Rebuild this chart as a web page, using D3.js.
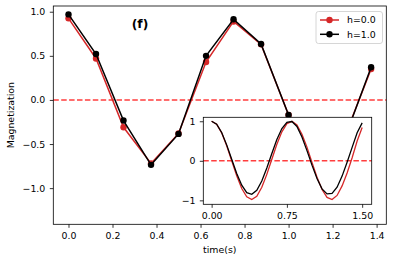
<!DOCTYPE html>
<html><head><meta charset="utf-8">
<script src="https://cdn.jsdelivr.net/npm/d3@7"></script>
<style>
body{margin:0;background:#fff}
text{font-family:"DejaVu Sans",sans-serif}
</style>
</head><body>
<svg id="c" width="394" height="262"></svg>
<script>
// ---- data ----
const times = [0, 0.125, 0.25, 0.375, 0.5, 0.625, 0.75, 0.875, 1.0, 1.125, 1.25, 1.375];
const magH0 = [0.925, 0.47, -0.31, -0.72, -0.38, 0.43, 0.89, 0.63, -0.17, -0.84, -0.45, 0.35];
const magH1 = [0.97, 0.52, -0.234, -0.736, -0.385, 0.50, 0.914, 0.634, -0.17, -0.80, -0.47, 0.37];
const seriesLabels = ["h=0.0", "h=1.0"];
const seriesColors = ["#d62728", "#000000"];

const insetTimes = [0,0.05,0.1,0.15,0.2,0.25,0.3,0.35,0.4,0.45,0.5,0.55,0.6,0.65,0.7,0.75,0.8,0.85,0.9,0.95,1.0,1.05,1.1,1.15,1.2,1.25,1.3,1.35,1.4,1.45,1.5];
const insetH0 = [1.0,0.924,0.707,0.381,0.0,-0.38,-0.70,-0.911,-0.98,-0.895,-0.668,-0.343,0.04,0.418,0.733,0.938,0.999,0.907,0.671,0.346,-0.04,-0.416,-0.726,-0.925,-0.978,-0.876,-0.634,-0.307,0.078,0.50,0.84];
const insetH1 = [1.0,0.926,0.716,0.403,0.038,-0.322,-0.618,-0.804,-0.847,-0.744,-0.51,-0.181,0.186,0.537,0.815,0.973,0.993,0.869,0.60,0.258,-0.11,-0.45,-0.71,-0.838,-0.822,-0.668,-0.387,-0.036,0.34,0.71,0.96];

const xTicks = [0, 0.2, 0.4, 0.6, 0.8, 1.0, 1.2, 1.4];
const yTicks = [-1.0, -0.5, 0.0, 0.5, 1.0];
const insetXTicks = [0, 0.75, 1.5];
const insetYTicks = [-1, 0, 1];

const FS = 9.4;
const svg = d3.select("#c");
const fmtMinus = s => s.replace("-", "\u2212");

// ---- main axes ----
const L = 53.3, R = 386.3, T = 6, B = 224.3;
const x = d3.scaleLinear().domain([-0.069, 1.444]).range([L, R]);
const y = d3.scaleLinear().domain([-1.41, 1.065]).range([B, T]);

function styleAxis(g) {
  g.select(".domain").remove();
  g.selectAll(".tick line").attr("stroke", "#000").attr("stroke-width", 0.8);
  g.selectAll(".tick text").attr("font-size", FS).attr("fill", "#000")
    .attr("font-family", "DejaVu Sans, sans-serif");
}

svg.append("g").attr("transform", `translate(0,${B})`)
  .call(d3.axisBottom(x).tickValues(xTicks).tickSize(3.5).tickPadding(4.5)
    .tickFormat(d => fmtMinus(d3.format(".1f")(d))))
  .call(styleAxis);
svg.append("g").attr("transform", `translate(${L},0)`)
  .call(d3.axisLeft(y).tickValues(yTicks).tickSize(3.5).tickPadding(4.5)
    .tickFormat(d => fmtMinus(d3.format(".1f")(d))))
  .call(styleAxis);

// zero line
svg.append("line").attr("x1", L).attr("x2", R).attr("y1", y(0)).attr("y2", y(0))
  .attr("stroke", "#ff2a2a").attr("stroke-width", 1.5).attr("stroke-dasharray", "5.5,2.4")
  .attr("opacity", 0.9);

// series
const seriesData = [magH0, magH1];
const line = d3.line().x((d, i) => x(times[i])).y(d => y(d));
seriesData.forEach((vals, k) => {
  svg.append("path").datum(vals).attr("d", line).attr("fill", "none")
    .attr("stroke", seriesColors[k]).attr("stroke-width", 1.5);
  svg.append("g").selectAll("circle").data(vals).join("circle")
    .attr("cx", (d, i) => x(times[i])).attr("cy", d => y(d)).attr("r", 3.2)
    .attr("fill", seriesColors[k]);
});

// frame
svg.append("rect").attr("x", L).attr("y", T).attr("width", R - L).attr("height", B - T)
  .attr("fill", "none").attr("stroke", "#000").attr("stroke-width", 0.8);

// labels
svg.append("text").attr("x", (L + R) / 2).attr("y", 253).attr("text-anchor", "middle")
  .attr("font-size", FS).text("time(s)");
svg.append("text").attr("transform", `translate(14.3,${(T + B) / 2}) rotate(-90)`)
  .attr("text-anchor", "middle").attr("font-size", FS).text("Magnetization");
svg.append("text").attr("x", 140).attr("y", 28).attr("text-anchor", "middle")
  .attr("font-size", 12.3).attr("font-weight", "bold").text("(f)");

// legend
const lg = svg.append("g");
lg.append("rect").attr("x", 316).attr("y", 11.5).attr("width", 66.5).attr("height", 32)
  .attr("rx", 2.5).attr("fill", "#fff").attr("fill-opacity", 0.8)
  .attr("stroke", "#cccccc").attr("stroke-width", 0.8);
seriesLabels.forEach((lab, k) => {
  const yy = 20 + k * 14.3;
  lg.append("line").attr("x1", 320).attr("x2", 339).attr("y1", yy).attr("y2", yy)
    .attr("stroke", seriesColors[k]).attr("stroke-width", 1.5);
  lg.append("circle").attr("cx", 329.5).attr("cy", yy).attr("r", 3.2).attr("fill", seriesColors[k]);
  lg.append("text").attr("x", 347).attr("y", yy + 3.4).attr("font-size", FS).text(lab);
});

// ---- inset ----
const iL = 203.3, iR = 371.7, iT = 117.3, iB = 204.3;
const xi = d3.scaleLinear().domain([-0.083, 1.595]).range([iL, iR]);
const yi = d3.scaleLinear().domain([-1.1, 1.1]).range([iB, iT]);
svg.append("rect").attr("x", iL).attr("y", iT).attr("width", iR - iL).attr("height", iB - iT)
  .attr("fill", "#fff");
svg.append("g").attr("transform", `translate(0,${iB})`)
  .call(d3.axisBottom(xi).tickValues(insetXTicks).tickSize(3.5).tickPadding(5)
    .tickFormat(d3.format(".2f")))
  .call(styleAxis);
svg.append("g").attr("transform", `translate(${iL},0)`)
  .call(d3.axisLeft(yi).tickValues(insetYTicks).tickSize(3.5).tickPadding(4.3)
    .tickFormat(d => fmtMinus(String(d))))
  .call(styleAxis);
svg.append("line").attr("x1", iL).attr("x2", iR).attr("y1", yi(0)).attr("y2", yi(0))
  .attr("stroke", "#ff2a2a").attr("stroke-width", 1.5).attr("stroke-dasharray", "5.5,2.4")
  .attr("opacity", 0.9);
const iline = d3.line().x((d, i) => xi(insetTimes[i])).y(d => yi(d));
[insetH0, insetH1].forEach((vals, k) => {
  svg.append("path").datum(vals).attr("d", iline).attr("fill", "none")
    .attr("stroke", seriesColors[k]).attr("stroke-width", 1.3);
});
svg.append("rect").attr("x", iL).attr("y", iT).attr("width", iR - iL).attr("height", iB - iT)
  .attr("fill", "none").attr("stroke", "#000").attr("stroke-width", 0.8);
</script>
</body></html>
